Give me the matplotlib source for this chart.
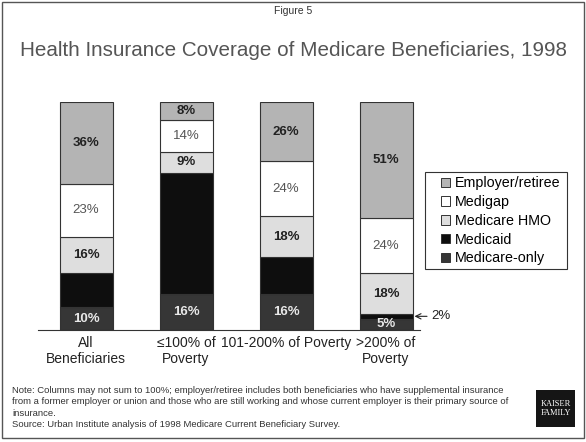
import matplotlib
matplotlib.use('Agg')
import matplotlib.pyplot as plt
from matplotlib.patches import Patch, Rectangle

plt.rcParams['font.family'] = ['Liberation Sans', 'DejaVu Sans']

W, H = 586, 442

groups = ['All\nBeneficiaries', '\u2264100% of\nPoverty',
          '101-200% of Poverty', '>200% of\nPoverty']
# stacked bottom to top
medicare_only = [10, 16, 16, 5]
medicaid = [15, 53, 16, 2]
medicare_hmo = [16, 9, 18, 18]
medigap = [23, 14, 24, 24]
employer = [36, 8, 26, 51]

series = [
    ('Medicare-only', medicare_only, '#363636', '#e8e8e8', 'bold'),
    ('Medicaid', medicaid, '#0e0e0e', None, None),
    ('Medicare HMO', medicare_hmo, '#dedede', '#222222', 'bold'),
    ('Medigap', medigap, '#ffffff', '#555555', 'normal'),
    ('Employer/retiree', employer, '#b4b4b4', '#222222', 'bold'),
]

fig = plt.figure(figsize=(W / 100, H / 100), dpi=100)
ax = fig.add_axes([38 / W, (H - 330) / H, 382 / W, 228 / H])

x = list(range(len(groups)))
bw = 0.53
bottom = [0] * len(groups)
for name, vals, color, tcolor, weight in series:
    ax.bar(x, vals, bw, bottom=bottom, color=color, edgecolor='#333333',
           linewidth=0.8, label=name)
    if tcolor is not None:
        for i, v in enumerate(vals):
            if v < 4:
                continue
            ax.text(i, bottom[i] + v / 2, f'{v}%', ha='center', va='center',
                    fontsize=9.5, color=tcolor, fontweight=weight)
    bottom = [b + v for b, v in zip(bottom, vals)]

# the Medicaid sliver in the last bar is too thin to hold its label
ax.annotate(f'{medicaid[3]}%', xy=(3 + bw / 2 + 0.02, medicare_only[3] + medicaid[3] / 2),
            xytext=(12, 0), textcoords='offset points', va='center',
            fontsize=9.5, color='#222222',
            arrowprops=dict(arrowstyle='->', lw=0.8, color='#222222',
                            shrinkA=1, shrinkB=0))

# center of first bar sits at x=86 px, bars 100 px apart
ax.set_xlim(-0.48, 3.34)
ax.set_ylim(0, 100)
for s in ('top', 'left', 'right'):
    ax.spines[s].set_visible(False)
ax.spines['bottom'].set_color('#333333')
ax.set_yticks([])
ax.set_xticks(x, groups)
ax.tick_params(axis='x', length=0, pad=4, labelsize=10, labelcolor='#222222')

# legend entries without their own frame; box drawn separately
handles = [Patch(facecolor=c, edgecolor='#333333', linewidth=0.7)
           for _, _, c, _, _ in series[::-1]]
labels = [n for n, _, _, _, _ in series[::-1]]
fig.legend(handles, labels, loc='upper left',
           bbox_to_anchor=(441 / W, 1 - 176.5 / H), borderaxespad=0,
           frameon=False, fontsize=10.3, handlelength=0.65,
           handleheight=0.65, handletextpad=0.35, labelspacing=0.33,
           borderpad=0)
fig.add_artist(Rectangle((425 / W, 1 - 269 / H), 142 / W, 97 / H,
                         transform=fig.transFigure, fill=False,
                         edgecolor='#333333', linewidth=0.8))

fig.text(0.5, 1 - 11 / H, 'Figure 5', ha='center', va='center',
         fontsize=7.5, color='#333333')
fig.text(0.5, 1 - 50 / H,
         'Health Insurance Coverage of Medicare Beneficiaries, 1998',
         ha='center', va='center', fontsize=14.9, color='#555555')

note = ('Note: Columns may not sum to 100%; employer/retiree includes both '
        'beneficiaries who have supplemental insurance\n'
        'from a former employer or union and those who are still working and '
        'whose current employer is their primary source of\n'
        'insurance.\n'
        'Source: Urban Institute analysis of 1998 Medicare Current Beneficiary Survey.')
fig.text(12 / W, 1 - 386 / H, note, ha='left', va='top', fontsize=6.8,
         color='#333333', linespacing=1.35)

# logo block, lower right
fig.add_artist(Rectangle((536 / W, 1 - 427 / H), 39 / W, 37 / H,
                         transform=fig.transFigure, facecolor='#151515',
                         edgecolor='none'))
fig.text(555.5 / W, 1 - 408.5 / H, 'KAISER\nFAMILY', ha='center', va='center',
         fontsize=6, color='white', family=['Liberation Serif'],
         linespacing=1.1)

# outer frame
fig.add_artist(Rectangle((1.5 / W, 4 / H), 582 / W, (H - 6) / H,
                         transform=fig.transFigure, fill=False,
                         edgecolor='#555555', linewidth=1))

fig.savefig('out.png', dpi=100)
